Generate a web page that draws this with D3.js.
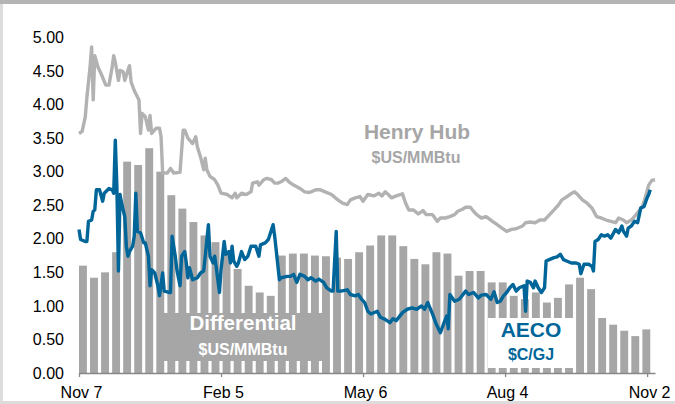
<!DOCTYPE html>
<html>
<head>
<meta charset="utf-8">
<script src="https://cdn.jsdelivr.net/npm/d3@7"></script>
<style>
  body { margin: 0; background: #fff; }
  svg { display: block; font-family: Arial, "Liberation Sans", sans-serif; }
</style>
</head>
<body>
<div id="chart"></div>
<script>
// ---- data ----
const startDate = new Date(2018, 10, 7)   // Nov 7
const tickDays = [0, 90, 180, 270, 360]
const yTicks = [0, 0.5, 1, 1.5, 2, 2.5, 3, 3.5, 4, 4.5, 5]

// weekly differential, $US/MMBtu (one bar per trading week)
const diffValues = [1.6, 1.42, 1.5, 1.8, 3.15, 3.1, 3.35, 3.0, 2.65, 2.45, 2.25, 2.05, 1.95,
  1.8, 1.55, 1.3, 1.2, 1.15, 1.75, 1.78, 1.78, 1.75, 1.74, 1.72, 1.7, 1.8, 1.9, 2.05, 2.05,
  1.89, 1.7, 1.62, 1.8, 1.78, 1.45, 1.52, 1.52, 1.35, 1.35, 1.15, 1.1, 1.2, 1.05, 1.12, 1.32,
  1.42, 1.25, 0.82, 0.72, 0.63, 0.55, 0.65]

// Henry Hub, $US/MMBtu (days since Nov 7)
const hhDays = [0, 2, 4, 5, 7, 8, 9, 10, 12, 14, 17, 19, 21, 22, 23, 25, 26, 28, 29, 31, 32, 33,
  35, 38, 39, 40, 42, 44, 45, 46, 49, 51, 52, 53, 56, 58, 60, 64, 66, 67, 69, 72, 74, 75, 77,
  79, 80, 81, 83, 86, 88, 90, 94, 97, 99, 100, 103, 106, 109, 110, 113, 114, 117, 119, 122,
  124, 126, 128, 131, 133, 136, 140, 143, 146, 150, 153, 156, 160, 164, 167, 170, 172, 175,
  178, 180, 183, 187, 190, 192, 194, 196, 198, 201, 205, 207, 209, 212, 215, 218, 220, 224,
  227, 229, 232, 235, 238, 240, 243, 245, 248, 250, 252, 255, 258, 262, 265, 268, 271, 274,
  277, 281, 283, 286, 289, 292, 295, 297, 301, 304, 306, 308, 311, 314, 316, 319, 322, 325,
  328, 331, 334, 337, 340, 342, 345, 347, 350, 353, 357, 359, 361, 363, 365]
const hhPrices = [3.57, 3.6, 3.82, 4.11, 4.56, 4.86, 4.07, 4.73, 4.56, 4.46, 4.29, 4.29, 4.56,
  4.73, 4.63, 4.36, 4.51, 4.49, 4.36, 4.51, 4.58, 4.34, 4.21, 4.07, 3.57, 3.87, 3.82, 3.62,
  3.84, 3.57, 3.65, 3.65, 3.52, 2.98, 2.98, 3.05, 2.98, 2.99, 3.62, 3.62, 3.5, 3.42, 3.52,
  3.37, 3.22, 3.03, 3.2, 3.03, 2.93, 2.88, 2.8, 2.68, 2.66, 2.61, 2.68, 2.61, 2.68, 2.66, 2.7,
  2.83, 2.85, 2.8, 2.88, 2.9, 2.88, 2.83, 2.83, 2.85, 2.9, 2.85, 2.8, 2.75, 2.7, 2.69, 2.73,
  2.73, 2.7, 2.66, 2.58, 2.53, 2.51, 2.58, 2.61, 2.63, 2.56, 2.66, 2.64, 2.68, 2.64, 2.7,
  2.66, 2.61, 2.64, 2.67, 2.53, 2.43, 2.43, 2.37, 2.42, 2.36, 2.36, 2.26, 2.31, 2.31, 2.33,
  2.36, 2.41, 2.44, 2.47, 2.47, 2.41, 2.36, 2.31, 2.33, 2.26, 2.21, 2.16, 2.11, 2.14, 2.15,
  2.19, 2.24, 2.25, 2.24, 2.28, 2.28, 2.33, 2.43, 2.51, 2.58, 2.61, 2.66, 2.7, 2.66, 2.58,
  2.53, 2.46, 2.33, 2.31, 2.28, 2.26, 2.24, 2.31, 2.28, 2.24, 2.28, 2.36, 2.48, 2.63, 2.8,
  2.87, 2.88]

// AECO, $C/GJ (days since Nov 7)
const aecoDays = [0, 1, 4, 5, 6, 8, 9, 10, 11, 13, 15, 16, 19, 21, 22, 23, 24, 25, 26, 27, 29,
  30, 31, 32, 34, 35, 36, 37, 39, 41, 42, 44, 45, 46, 48, 50, 51, 53, 54, 57, 58, 59, 61, 62,
  64, 65, 67, 68, 69, 70, 72, 75, 77, 79, 80, 82, 83, 85, 86, 87, 89, 90, 92, 93, 95, 96, 97,
  98, 100, 101, 103, 105, 107, 109, 112, 114, 115, 118, 120, 123, 124, 127, 128, 132, 134,
  136, 138, 140, 143, 145, 147, 150, 152, 155, 157, 160, 161, 163, 164, 166, 170, 172, 175,
  177, 179, 181, 183, 185, 189, 191, 194, 197, 199, 201, 205, 208, 211, 214, 217, 219, 221,
  224, 226, 229, 231, 233, 234, 235, 238, 241, 245, 247, 250, 253, 255, 258, 261, 263, 265,
  267, 269, 271, 273, 275, 277, 279, 282, 283, 284, 286, 288, 289, 291, 293, 295, 296, 298,
  301, 303, 305, 307, 309, 312, 315, 317, 318, 320, 323, 325, 326, 327, 329, 331, 333, 335,
  337, 340, 342, 344, 345, 347, 348, 350, 352, 354, 356, 358, 360, 361, 362]
const aecoPrices = [2.14, 1.99, 1.96, 1.96, 2.26, 2.28, 2.41, 2.43, 2.73, 2.73, 2.56, 2.68,
  2.75, 2.73, 2.68, 3.47, 2.78, 1.52, 2.66, 2.53, 2.33, 1.89, 1.74, 1.81, 1.89, 2.04, 2.68,
  2.11, 2.09, 1.94, 1.94, 1.74, 1.3, 1.54, 1.49, 1.3, 1.15, 1.49, 1.22, 1.2, 1.2, 2.04, 1.74,
  1.54, 1.3, 1.74, 1.81, 1.64, 1.42, 1.57, 1.39, 1.42, 1.49, 1.52, 1.74, 2.21, 1.74, 1.64,
  1.74, 1.57, 1.2, 1.54, 1.96, 1.77, 1.81, 1.64, 1.89, 1.67, 1.59, 1.64, 1.81, 1.69, 1.74,
  1.89, 1.89, 1.74, 1.91, 1.94, 1.99, 2.21, 2.04, 1.39, 1.42, 1.44, 1.44, 1.47, 1.35, 1.47,
  1.44, 1.39, 1.42, 1.37, 1.4, 1.35, 1.27, 1.22, 1.22, 2.11, 1.22, 1.22, 1.24, 1.17, 1.15,
  1.17, 1.1, 1.05, 0.92, 0.88, 0.92, 0.83, 0.8, 0.75, 0.81, 0.78, 0.9, 0.95, 0.97, 0.95, 1.0,
  0.95, 1.05, 0.88, 0.75, 0.6, 0.73, 0.85, 0.66, 1.17, 1.07, 1.1, 1.22, 1.17, 1.2, 1.12, 1.16,
  1.17, 1.1, 1.21, 1.05, 1.07, 1.15, 1.2, 1.27, 1.32, 1.22, 1.27, 1.3, 0.92, 1.37, 1.35, 1.27,
  1.37, 1.27, 1.2, 1.27, 1.67, 1.69, 1.72, 1.73, 1.77, 1.69, 1.67, 1.64, 1.64, 1.62, 1.48,
  1.62, 1.62, 1.59, 1.52, 1.96, 1.99, 2.06, 2.04, 2.06, 2.01, 2.14, 2.09, 2.19, 2.11, 2.04,
  2.16, 2.19, 2.26, 2.24, 2.46, 2.48, 2.61, 2.66, 2.73]

// ---- layout ----
const dms = { width: 675, height: 404 }
const plot = { left: 79, right: 655, top: 37.5, bottom: 373 }

const gray = '#a6a6a6'
const hhGray = '#b2b2b2'
const blue = '#00669a'

const svg = d3.select('#chart').append('svg')
    .attr('width', dms.width)
    .attr('height', dms.height)

// frame
svg.append('rect').attr('x', 0).attr('y', 0).attr('width', dms.width).attr('height', dms.height).attr('fill', '#fff')
svg.append('rect').attr('x', 0).attr('y', 0).attr('width', 3).attr('height', dms.height).attr('fill', '#dcdcdc')
svg.append('rect').attr('x', 0).attr('y', dms.height - 3).attr('width', dms.width).attr('height', 3).attr('fill', '#dcdcdc')
svg.append('rect').attr('x', 0).attr('y', 0).attr('width', dms.width).attr('height', 4).attr('fill', '#b4b4b4')

const day = d => d3.timeDay.offset(startDate, d)

const xScale = d3.scaleTime()
    .domain([startDate, day(365)])
    .range([plot.left, plot.right])

const yScale = d3.scaleLinear()
    .domain([0, 5])
    .range([plot.bottom, plot.top])

// differential bars (Mon-Fri blocks)
svg.append('g').attr('id', 'bars')
  .selectAll('rect')
  .data(diffValues)
  .join('rect')
    .attr('x', (d, i) => xScale(day(i * 7)))
    .attr('width', (d, i) => xScale(day(i * 7 + 5)) - xScale(day(i * 7)))
    .attr('y', d => yScale(d))
    .attr('height', d => yScale(0) - yScale(d))
    .attr('fill', gray)

// label boxes
const diffBox = svg.append('g')
diffBox.append('rect')
    .attr('x', 159).attr('y', 313).attr('width', 166).attr('height', 48)
    .attr('fill', gray)
diffBox.append('text')
    .attr('x', 243).attr('y', 330)
    .attr('text-anchor', 'middle')
    .attr('fill', '#fff').attr('font-weight', 'bold').attr('font-size', 20.5)
    .text('Differential')
diffBox.append('text')
    .attr('x', 243).attr('y', 355)
    .attr('text-anchor', 'middle')
    .attr('fill', '#fff').attr('font-weight', 'bold').attr('font-size', 16)
    .text('$US/MMBtu')

const aecoBox = svg.append('g')
aecoBox.append('rect')
    .attr('x', 488).attr('y', 318).attr('width', 85).attr('height', 50)
    .attr('fill', '#fff')
aecoBox.append('text')
    .attr('x', 531).attr('y', 337)
    .attr('text-anchor', 'middle')
    .attr('fill', blue).attr('font-weight', 'bold').attr('font-size', 21)
    .text('AECO')
aecoBox.append('text')
    .attr('x', 531).attr('y', 360)
    .attr('text-anchor', 'middle')
    .attr('fill', blue).attr('font-weight', 'bold').attr('font-size', 16)
    .text('$C/GJ')

svg.append('text')
    .attr('x', 417).attr('y', 139)
    .attr('text-anchor', 'middle')
    .attr('fill', gray).attr('font-weight', 'bold').attr('font-size', 21)
    .text('Henry Hub')
svg.append('text')
    .attr('x', 416).attr('y', 163)
    .attr('text-anchor', 'middle')
    .attr('fill', gray).attr('font-weight', 'bold').attr('font-size', 16)
    .text('$US/MMBtu')

// lines
const lineGen = d3.line()
    .x(d => xScale(day(d[0])))
    .y(d => yScale(d[1]))

svg.append('path')
    .datum(d3.zip(hhDays, hhPrices))
    .attr('d', lineGen)
    .attr('fill', 'none')
    .attr('stroke', hhGray)
    .attr('stroke-width', 3.4)
    .attr('stroke-linejoin', 'round')

svg.append('path')
    .datum(d3.zip(aecoDays, aecoPrices))
    .attr('d', lineGen)
    .attr('fill', 'none')
    .attr('stroke', blue)
    .attr('stroke-width', 3.4)
    .attr('stroke-linejoin', 'round')

// axes
const xAxis = svg.append('g')
    .attr('transform', `translate(0,${plot.bottom})`)
    .call(d3.axisBottom(xScale)
      .tickValues(tickDays.map(day))
      .tickFormat(d3.timeFormat('%b %-d'))
      .tickSize(4)
      .tickSizeOuter(0))
xAxis.select('.domain').attr('stroke', '#888').attr('stroke-width', 1.3)
xAxis.selectAll('.tick line').attr('stroke', '#888').attr('stroke-width', 1.3)
xAxis.selectAll('.tick text')
    .attr('font-size', 16).attr('font-family', 'Arial, "Liberation Sans", sans-serif')
    .attr('fill', '#000').attr('dx', 2).attr('dy', '1.1em')

const yAxis = svg.append('g')
    .attr('transform', `translate(64,0)`)
    .call(d3.axisLeft(yScale)
      .tickValues(yTicks)
      .tickFormat(d3.format('.2f'))
      .tickSize(0))
yAxis.select('.domain').remove()
yAxis.selectAll('.tick text')
    .attr('font-size', 16).attr('font-family', 'Arial, "Liberation Sans", sans-serif')
    .attr('fill', '#000').attr('x', 0)
</script>
</body>
</html>
